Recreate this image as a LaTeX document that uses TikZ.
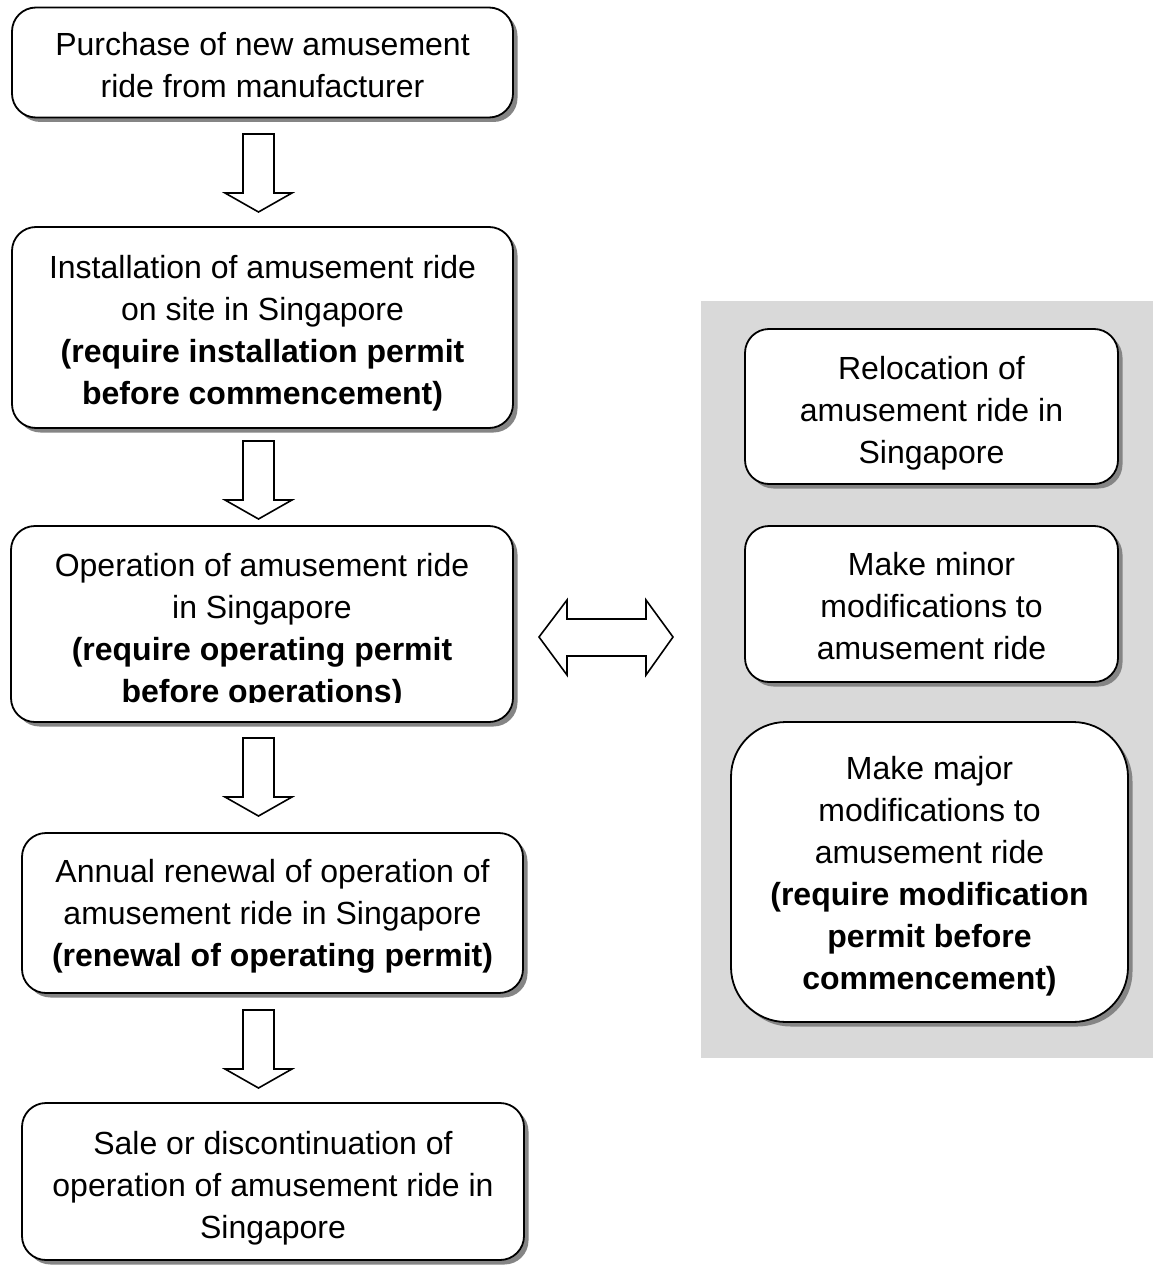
\documentclass[tikz,border=0pt]{standalone}
\usepackage{fontspec}
\setmainfont{Liberation Sans}
\usetikzlibrary{shadows}
\definecolor{panelgray}{HTML}{D9D9D9}
\definecolor{shadgray}{HTML}{858585}
\begin{document}
\begin{tikzpicture}[x=1pt,y=-1pt,
  txt/.style={align=center, font=\fontsize{32}{42}\selectfont, inner sep=0pt},
  box/.style={draw, line width=1.8pt, fill=white, rounded corners=24pt, inner sep=0pt,
    drop shadow={shadow xshift=4.5pt, shadow yshift=-4.5pt, fill=shadgray, opacity=1}},
  blockarrow/.style={draw, line width=1.6pt, fill=white, line join=miter},
  downarr/.pic={\draw[blockarrow] (-15.5,0) -- (15.5,0) -- (15.5,59) -- (33.5,59) -- (0,78) -- (-33.5,59) -- (-15.5,59) -- cycle;}
]
\useasboundingbox (0,0) rectangle (1159,1265);
\fill[white] (0,0) rectangle (1159,1265);

% right panel
\fill[panelgray] (701,301) rectangle (1153,1058);

% left column
\node[box, minimum width=501pt, minimum height=110pt] (b1) at (262.5,62.5) {};
\node[txt] (b1t) at ([yshift=-3pt]b1.center)
  {Purchase of new amusement\\ride from manufacturer};
\node[box, minimum width=501pt, minimum height=201pt] (b2) at (262.5,327.5) {};
\node[txt] (b2t) at ([yshift=-6pt]b2.center)
  {Installation of amusement ride\\on site in Singapore\\\textbf{(require installation permit}\\\textbf{before commencement)}};
\node[box, minimum width=502pt, minimum height=196pt] (b3) at (262,624) {};
\begin{scope}
  \clip (0,0) rectangle (1159,702);
  \node[txt] (b3t) at ([yshift=-7.5pt]b3.center)
    {Operation of amusement ride\\in Singapore\\\textbf{(require operating permit}\\\textbf{before operations)}};
\end{scope}
\node[box, minimum width=501pt, minimum height=160pt] (b4) at (272.5,913) {};
\node[txt] (b4t) at ([yshift=-3pt]b4.center)
  {Annual renewal of operation of\\amusement ride in Singapore\\\textbf{(renewal of operating permit)}};
\node[box, minimum width=502pt, minimum height=157pt] (b5) at (273,1181.5) {};
\node[txt] (b5t) at ([yshift=-7pt]b5.center)
  {Sale or discontinuation of\\operation of amusement ride in\\Singapore};

% right column
\node[box, minimum width=373pt, minimum height=155pt] (r1) at (931.5,406.5) {};
\node[txt] (r1t) at ([yshift=-7pt]r1.center)
  {Relocation of\\amusement ride in\\Singapore};
\node[box, minimum width=373pt, minimum height=156pt] (r2) at (931.5,604) {};
\node[txt] (r2t) at ([yshift=-2pt]r2.center)
  {Make minor\\modifications to\\amusement ride};
\node[box, rounded corners=55pt, minimum width=397pt, minimum height=300pt] (r3) at (929.5,872) {};
\node[txt] (r3t) at ([yshift=-4pt]r3.center)
  {Make major\\modifications to\\amusement ride\\\textbf{(require modification}\\\textbf{permit before}\\\textbf{commencement)}};

% block arrows
\pic at (258.5,134) {downarr};
\pic at (258.5,441) {downarr};
\pic at (258.5,738) {downarr};
\pic at (258.5,1010) {downarr};

\draw[blockarrow] (539,637) -- (567,600) -- (567,619) -- (646,619) -- (646,600) -- (673,637)
  -- (646,675) -- (646,656) -- (567,656) -- (567,675) -- cycle;
\end{tikzpicture}
\end{document}
